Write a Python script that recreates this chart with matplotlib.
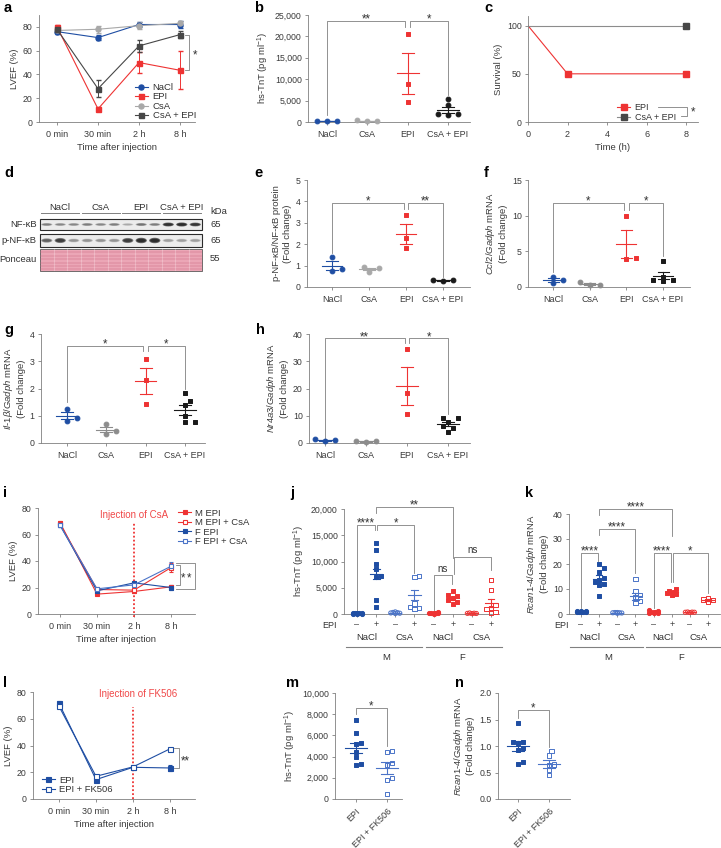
import matplotlib.pyplot as plt
import numpy as np
import matplotlib.transforms as mtransforms
from matplotlib.lines import Line2D
from matplotlib.patches import Rectangle, Ellipse
from matplotlib.ticker import StrMethodFormatter

# ---------------- data ----------------
groups = ['NaCl', 'CsA', 'EPI', 'CsA + EPI']
times = ['0 min', '30 min', '2 h', '8 h']

# a: LVEF time course
lvef_nacl = [76, 71, 82, 82]
lvef_nacl_err = [2, 2, 2, 3]
lvef_epi = [80, 11, 50, 43.5]
lvef_epi_err = [2, 2, 8.5, 16]
lvef_csa = [77, 78, 81, 83]
lvef_csa_err = [2, 3, 3, 2]
lvef_csa_epi = [78, 28, 64, 73.5]
lvef_csa_epi_err = [2, 7, 5, 3]

# b: hs-TnT
tnt_vals = [[150, 150, 150], [200, 400, 200], [20600, 8800, 4600], [5300, 3900, 1800, 1900, 1700]]
tnt_mean = [150, 270, 11400, 2900]
tnt_sem = [20, 70, 4800, 700]

# c: survival
surv_t_epi = [0, 2, 8]
surv_epi = [100, 50, 50]
surv_t_csa_epi = [0, 8]
surv_csa_epi = [100, 100]

# d: western blot band strength (0-1), 12 lanes
nfkb_band = [0.45, 0.4, 0.4, 0.45, 0.4, 0.45, 0.25, 0.5, 0.45, 0.95, 1.0, 0.9]
pnfkb_band = [0.6, 0.85, 0.35, 0.35, 0.35, 0.35, 0.85, 1.0, 1.0, 0.3, 0.3, 0.3]
kda = ['65', '65', '55']

# e: p-NF-kB / NF-kB
e_vals = [[1.42, 0.75, 0.82], [0.92, 0.72, 0.88], [3.38, 2.3, 1.8], [0.3, 0.33, 0.31]]
e_mean = [1.0, 0.84, 2.48, 0.31]
e_sem = [0.22, 0.06, 0.46, 0.01]

# f: Ccl2
f_vals = [[1.4, 0.6, 0.95], [0.7, 0.3, 0.25], [10.0, 3.9, 4.1], [3.65, 1.4, 0.9, 1.05, 1.05]]
f_mean = [1.0, 0.42, 6.0, 1.6]
f_sem = [0.25, 0.14, 2.0, 0.5]

# g: Il-1b
g_vals = [[1.26, 0.81, 0.9], [0.71, 0.45, 0.32], [3.08, 2.3, 1.42], [1.82, 1.55, 1.4, 1.0, 0.76, 0.76]]
g_mean = [1.0, 0.49, 2.27, 1.22]
g_sem = [0.13, 0.1, 0.48, 0.18]

# h: Nr4a3
h_vals = [[0.7, 1.3, 1.0], [0.3, 0.9, 0.8], [34.4, 18.2, 10.6], [9.2, 9.0, 7.6, 6.1, 5.5, 4.0]]
h_mean = [1.0, 0.67, 21.0, 6.9]
h_sem = [0.2, 0.2, 7.0, 0.8]

# i: LVEF by sex
i_m_epi = [69, 15, 17, 20.5]
i_m_epi_err = [1.5, 1, 1.5, 1.5]
i_m_epi_csa = [68, 18.5, 18, 35]
i_m_epi_csa_err = [1.5, 1.5, 1.5, 3.5]
i_f_epi = [67, 17.5, 23.5, 20]
i_f_epi_err = [1, 1, 1.5, 2]
i_f_epi_csa = [67, 19, 22, 36]
i_f_epi_csa_err = [1, 1, 1.5, 3]

# j: hs-TnT by sex (M NaCl -, +, M CsA -, +, F NaCl -, +, F CsA -, +)
epi_signs = ['–', '+'] * 4
j_vals = [[100, 150, 80, 200, 120, 90, 60, 180],
          [13600, 12200, 9600, 8600, 7300, 7100, 2700, 1300],
          [300, 100, 400, 200, 250, 150],
          [7200, 7000, 2000, 1300, 1100, 900],
          [150, 250, 100, 300, 200, 120, 80],
          [4400, 3700, 3500, 3000, 2600, 2300, 2000],
          [100, 150, 200, 120, 80],
          [6400, 4600, 1700, 1200, 900, 400, 200]]
j_mean = [130, 7600, 230, 3600, 170, 3000, 130, 2100]
j_sem = [20, 1000, 50, 1000, 30, 300, 20, 800]

# k: Rcan1-4 by sex
k_vals = [[0.8, 1.2, 1.0, 0.9, 1.1, 0.7, 1.3, 1.0],
          [20, 18.3, 17, 14.5, 13.5, 13, 12.2, 11.8, 7.4],
          [0.4, 0.6, 0.5, 0.3, 0.5, 0.6],
          [14, 9.3, 7.5, 6.8, 5.2, 4.5],
          [0.5, 1.2, 0.8, 0.4, 1.0, 1.5, 0.6, 0.9],
          [9.9, 9.2, 8.8, 8.4, 8.0, 7.6],
          [0.7, 0.6, 0.8, 0.7, 0.75],
          [6.3, 5.8, 5.5, 5.0]]
k_mean = [1.0, 14.2, 0.5, 7.2, 0.85, 8.65, 0.7, 5.6]
k_sem = [0.08, 1.3, 0.05, 1.4, 0.12, 0.35, 0.04, 0.3]

# l: LVEF with FK506
l_epi = [71.5, 14.5, 23.7, 23.2]
l_epi_err = [1.5, 1.5, 1, 2.5]
l_fk = [69.3, 17, 24, 37.5]
l_fk_err = [1, 1, 1, 1]

# m, n
fk_groups = ['EPI', 'EPI + FK506']
m_vals = [[7450, 6200, 5300, 5200, 4450, 3950, 3300, 3250], [4550, 4450, 3400, 3200, 2000, 1800, 500]]
m_mean = [4800, 2900]
m_sem = [500, 550]
n_vals = [[1.43, 1.08, 1.07, 1.06, 0.97, 0.93, 0.7, 0.66], [0.9, 0.82, 0.65, 0.64, 0.55, 0.45]]
n_mean = [1.0, 0.66]
n_sem = [0.1, 0.07]

# ---------------- style ----------------
BLUE = '#1f4ea3'
BLUE2 = '#4b74c8'
RED = '#ee3333'
LGRAY = '#a8a8a8'
MGRAY = '#8c8c8c'
DGRAY = '#474747'
BLACK = '#1a1a1a'
LINE = '#808080'

plt.rcParams.update({
    'font.family': ['Liberation Sans', 'DejaVu Sans'],
    'font.size': 6.5,
    'mathtext.fontset': 'custom',
    'mathtext.rm': 'Liberation Sans',
    'mathtext.it': 'Liberation Sans:italic',
    'mathtext.default': 'regular',
    'axes.edgecolor': LINE,
    'axes.linewidth': 0.6,
    'xtick.color': LINE, 'ytick.color': LINE,
    'xtick.labelcolor': '#3a3a3a', 'ytick.labelcolor': '#3a3a3a',
    'xtick.major.size': 2.5, 'ytick.major.size': 2.5,
    'xtick.major.width': 0.6, 'ytick.major.width': 0.6,
    'xtick.major.pad': 3, 'ytick.major.pad': 2,
    'xtick.labelsize': 6.5, 'ytick.labelsize': 6.3,
    'axes.labelsize': 6.8, 'axes.labelcolor': '#3a3a3a',
    'text.color': '#333333',
})

W, H = 721, 848
fig = plt.figure(figsize=(W / 100, H / 100), dpi=100)


def cat_lim(l, r, c0, c1, n):
    u = (c1 - c0) / (n - 1)
    return ((l - c0) / u, (r - c0) / u)


def panel(l, t, r, b, xlim, ylim):
    ax = fig.add_axes([l / W, 1 - b / H, (r - l) / W, (b - t) / H])
    ax.set_xlim(*xlim)
    ax.set_ylim(*ylim)
    ax.spines[['top', 'right']].set_visible(False)
    ax.px = (r - l, b - t)
    return ax


def letter(x, y, s):
    fig.text(x / W, 1 - y / H, s, fontsize=10.5, fontweight='bold', color='black', va='center', ha='left')


def swarm(ax, x, vals, dx, dv=4.5, maxw=0.3):
    # simple beeswarm: place each point at the nearest free horizontal slot
    vals = np.asarray(vals, float)
    ppx = ax.px[0] / np.ptp(ax.get_xlim())
    ppy = ax.px[1] / np.ptp(ax.get_ylim())
    ys = vals * ppy
    lim = maxw * ppx
    cands = [0.0]
    j = 1
    while j * dx / 2 <= lim + 1e-9:
        cands += [j * dx / 2, -j * dx / 2]
        j += 1
    placed = []
    offs = np.zeros(len(vals))
    for i in np.argsort(vals):
        best, bestd = 0.0, -1
        for c in cands:
            dmin = min([np.hypot((c - px) / dx, (ys[i] - py) / dv) for px, py in placed], default=9)
            if dmin >= 1:
                best = c
                break
            if dmin > bestd:
                best, bestd = c, dmin
        placed.append((best, ys[i]))
        offs[i] = best / ppx
    return x + offs


def dotplot(ax, vals, means, sems, colors, markers, fills, s=12, mw=0.27, cw=0.15, dx=10, maxw=0.3):
    for i in range(len(vals)):
        c = colors[i]
        xs = swarm(ax, i, vals[i], dx, maxw=maxw)
        ax.scatter(xs, vals[i], s=s, marker=markers[i], facecolor=c if fills[i] else 'none',
                   edgecolor=c, linewidths=0.7, zorder=3, clip_on=False)
        m, e = means[i], sems[i]
        ax.plot([i - mw, i + mw], [m, m], color=c, lw=0.8, zorder=4)
        ax.plot([i, i], [m - e, m + e], color=c, lw=0.8, zorder=4)
        for yy in (m - e, m + e):
            ax.plot([i - cw, i + cw], [yy, yy], color=c, lw=0.8, zorder=4)


def bracket(ax, x1, x2, top, y1, y2, label, dy=-1.2):
    ax.plot([x1, x1, x2, x2], [y1, top, top, y2], color=LINE, lw=0.6, clip_on=False)
    fs = 7 if label == 'ns' else 8.3
    ax.annotate(label, ((x1 + x2) / 2, top), xytext=(0, dy), textcoords='offset points',
                ha='center', va='baseline', fontsize=fs, color='#333333', annotation_clip=False)


def star(ax, x, y, s='*'):
    ax.text(x, y, s, ha='center', va='center', fontsize=8.3)


def under(ax, x, dy_px, s, **kw):
    ax.annotate(s, xy=(x, 0), xycoords=('data', 'axes fraction'), xytext=(0, -dy_px * 0.72),
                textcoords='offset points', ha='center', va='center', annotation_clip=False, **kw)


def under_line(ax, x1, x2, dy_px):
    tr = mtransforms.blended_transform_factory(ax.transData, ax.transAxes)
    yf = -dy_px / ax.px[1]
    ax.plot([x1, x2], [yf, yf], color=LINE, lw=0.8, transform=tr, clip_on=False)


comma = StrMethodFormatter('{x:,.0f}')

# ---------------- a ----------------
ax = panel(39, 15, 195, 122, cat_lim(39, 195, 57, 180, 4), (0, 90))
x = np.arange(4)
series_a = [('NaCl', lvef_nacl, lvef_nacl_err, BLUE, 'o'),
            ('EPI', lvef_epi, lvef_epi_err, RED, 's'),
            ('CsA', lvef_csa, lvef_csa_err, LGRAY, 'o'),
            ('CsA + EPI', lvef_csa_epi, lvef_csa_epi_err, DGRAY, 's')]
handles = []
for lab, y, e, c, mk in series_a:
    ax.errorbar(x, y, yerr=e, color=c, marker=mk, ms=3.6, lw=0.8, elinewidth=0.7, capsize=1.8)
    handles.append(Line2D([], [], color=c, marker=mk, ms=3.6, lw=0.8, label=lab))
ax.legend(handles=handles, loc='lower right', bbox_to_anchor=(1.03, -0.02), frameon=False,
          fontsize=6.8, handlelength=1.4, handletextpad=0.5, labelspacing=0.05, borderaxespad=0)
ax.plot([3.12, 3.22, 3.22, 3.12], [73.5, 73.5, 43.5, 43.5], color=LINE, lw=0.6, clip_on=False)
star(ax, 3.36, 56)
ax.set_xticks(x, times)
ax.set_yticks(range(0, 81, 20))
ax.set_ylabel('LVEF (%)', labelpad=3)
ax.set_xlabel('Time after injection', labelpad=3)
letter(4, 8, 'a')

# ---------------- b ----------------
ax = panel(308, 15, 470, 122, cat_lim(308, 470, 327, 448, 4), (0, 25000))
dotplot(ax, tnt_vals, tnt_mean, tnt_sem, [BLUE, LGRAY, RED, BLACK], ['o', 'o', 's', 'o'], [1, 1, 1, 1])
bracket(ax, 0, 1.94, 23700, 1600, 22300, '**')
bracket(ax, 2.06, 3, 23700, 22300, 6300, '*')
ax.set_xticks(range(4), groups)
ax.set_yticks(range(0, 25001, 5000))
ax.yaxis.set_major_formatter(comma)
ax.set_ylabel('hs-TnT (pg ml$^{-1}$)', labelpad=3)
letter(254, 8, 'b')

# ---------------- c ----------------
ax = panel(528, 16, 698, 122, (0, 8.6), (0, 110))
ax.plot(surv_t_epi, surv_epi, color=RED, lw=0.8, marker='s', ms=3.8, markevery=[1, 2])
ax.plot(surv_t_csa_epi, surv_csa_epi, color=MGRAY, lw=0.8, marker='s', ms=3.8, mfc=DGRAY, mec=DGRAY,
        markevery=[1])
hc = [Line2D([], [], color=RED, marker='s', ms=3.8, lw=0.8, label='EPI'),
      Line2D([], [], color=MGRAY, marker='s', ms=3.8, mfc=DGRAY, mec=DGRAY, lw=0.8, label='CsA + EPI')]
ax.legend(handles=hc, loc='lower right', bbox_to_anchor=(0.89, -0.035), frameon=False,
          fontsize=6.5, handlelength=1.4, handletextpad=0.5, labelspacing=0.1, borderaxespad=0)
ax.plot([6.6, 8.05, 8.05, 7.75], [15.6, 15.6, 6.6, 6.6], color=LINE, lw=0.6, clip_on=False)
star(ax, 8.35, 10)
ax.set_xticks([0, 2, 4, 6, 8])
ax.set_yticks([0, 50, 100])
ax.set_ylabel('Survival (%)', labelpad=3)
ax.set_xlabel('Time (h)', labelpad=3)
letter(484, 8, 'c')

# ---------------- d (blot) ----------------
axd = fig.add_axes([40 / W, 1 - 272 / H, 162 / W, 55 / H])
axd.set_xlim(0, 12)
axd.set_ylim(272, 217)
axd.axis('off')
rows = [('NF-κB', 219, 230, nfkb_band, 3.4), ('p-NF-κB', 234, 247, pnfkb_band, 4.6)]
for name, top, bot, band, hh in rows:
    axd.add_patch(Rectangle((0, top), 12, bot - top, fc='#ececec', ec='#2b2b2b', lw=0.8, clip_on=False))
    yc = (top + bot) / 2
    for i, v in enumerate(band):
        a_ = 0.5 * v ** 1.2 + 0.02
        for k, sc in enumerate([1.0, 0.8, 0.55]):
            axd.add_patch(Ellipse((i + 0.5, yc), 0.84 * (1 - 0.12 * k), hh * sc * (0.6 + 0.6 * v),
                                  fc='#151515', alpha=a_, lw=0))
    axd.text(-0.25, yc, name, ha='right', va='center', fontsize=6.8)
axd.add_patch(Rectangle((0, 249), 12, 22, fc='#eba6b6', ec='#5a5a5a', lw=0.6, clip_on=False))
for yy in [252.5, 256, 259.5, 263, 266.5, 269.5]:
    axd.plot([0.05, 11.95], [yy, yy], color='#cf6c86', alpha=0.3, lw=1.2)
for i in range(1, 12):
    axd.plot([i, i], [249.5, 270.5], color='white', alpha=0.25, lw=0.8)
axd.text(-0.25, 260, 'Ponceau', ha='right', va='center', fontsize=6.8)
for gi, g in enumerate(groups):
    axd.text(3 * gi + 1.5, 207.5, g, ha='center', va='center', fontsize=6.8)
    axd.plot([3 * gi + 0.1, 3 * gi + 2.9], [213, 213], color=LINE, lw=0.7, clip_on=False)
axd.text(12.6, 212, 'kDa', ha='left', va='center', fontsize=6.8)
for lab, yy in zip(kda, [225, 241, 259]):
    axd.text(12.6, yy, lab, ha='left', va='center', fontsize=6.8)
letter(4, 173, 'd')

# ---------------- e ----------------
ax = panel(307, 180, 470, 287, cat_lim(307, 470, 332, 443, 4), (0, 5))
dotplot(ax, e_vals, e_mean, e_sem, [BLUE, LGRAY, RED, BLACK], ['o', 'o', 's', 'o'], [1, 1, 1, 1])
bracket(ax, 0, 1.94, 3.92, 1.6, 3.66, '*')
bracket(ax, 2.06, 3, 3.92, 3.66, 0.46, '**')
ax.set_xticks(range(4), groups)
ax.set_yticks(range(0, 6))
ax.set_ylabel('p-NF-κB/NF-κB protein\n(Fold change)', labelpad=3)
letter(254, 173, 'e')

# ---------------- f ----------------
ax = panel(528, 180, 690, 287, cat_lim(528, 690, 553, 663, 4), (0, 15))
dotplot(ax, f_vals, f_mean, f_sem, [BLUE, MGRAY, RED, BLACK], ['o', 'o', 's', 's'], [1, 1, 1, 1])
bracket(ax, 0, 1.94, 11.75, 2.1, 10.8, '*')
bracket(ax, 2.06, 3, 11.75, 10.8, 4.4, '*')
ax.set_xticks(range(4), groups)
ax.set_yticks([0, 5, 10, 15])
ax.set_ylabel('$\\it{Ccl2/Gadph}$ mRNA\n(Fold change)', labelpad=3)
letter(484, 173, 'f')

# ---------------- g ----------------
ax = panel(41, 334, 205, 443, cat_lim(41, 205, 67, 185, 4), (0, 4))
dotplot(ax, g_vals, g_mean, g_sem, [BLUE, MGRAY, RED, BLACK], ['o', 'o', 's', 's'], [1, 1, 1, 1])
bracket(ax, 0, 1.94, 3.56, 1.5, 3.37, '*')
bracket(ax, 2.06, 3, 3.56, 3.37, 2.0, '*')
ax.set_xticks(range(4), groups)
ax.set_yticks(range(0, 5))
ax.set_ylabel('$\\it{Il}$-$\\it{1β/Gadph}$ mRNA\n(Fold change)', labelpad=3)
letter(4, 330, 'g')

# ---------------- h ----------------
ax = panel(309, 334, 470, 443, cat_lim(309, 470, 325, 448, 4), (0, 40))
dotplot(ax, h_vals, h_mean, h_sem, [BLUE, MGRAY, RED, BLACK], ['o', 'o', 's', 's'], [1, 1, 1, 1])
bracket(ax, 0, 1.94, 38.4, 1.6, 36.6, '**')
bracket(ax, 2.06, 3, 38.4, 36.6, 10.8, '*')
ax.set_xticks(range(4), groups)
ax.set_yticks(range(0, 41, 10))
ax.set_ylabel('$\\it{Nr4a3/Gadph}$ mRNA\n(Fold change)', labelpad=3)
letter(256, 330, 'h')

# ---------------- i ----------------
ax = panel(38, 508, 195, 614, cat_lim(38, 195, 60, 171, 4), (0, 80))
series_i = [('M EPI', i_m_epi, i_m_epi_err, RED, True),
            ('M EPI + CsA', i_m_epi_csa, i_m_epi_csa_err, RED, False),
            ('F EPI', i_f_epi, i_f_epi_err, BLUE, True),
            ('F EPI + CsA', i_f_epi_csa, i_f_epi_csa_err, BLUE2, False)]
handles = []
for lab, y, e, c, fl in series_i:
    ax.errorbar(x, y, yerr=e, color=c, marker='s', ms=3.4, mfc=c if fl else 'white', mec=c, mew=0.8,
                lw=0.8, elinewidth=0.7, capsize=1.5)
    handles.append(Line2D([], [], color=c, marker='s', ms=3.4, mfc=c if fl else 'white', mec=c, mew=0.8,
                          lw=0.8, label=lab))
ax.axvline(2, ymin=-0.03, ymax=0.86, color=RED, lw=1.3, ls=(0, (1, 1.2)), clip_on=False)
ax.text(2, 75, 'Injection of CsA', color='#f04848', ha='center', va='center', fontsize=7)
ax.legend(handles=handles, loc='upper left', bbox_to_anchor=(0.87, 1.03), frameon=False,
          fontsize=6.8, handlelength=1.3, handletextpad=0.45, labelspacing=0.05, borderaxespad=0)
ax.plot([3.14, 3.24, 3.24, 3.14], [37, 37, 22, 22], color=LINE, lw=0.6, clip_on=False)
ax.plot([3.14, 3.65, 3.65, 3.14], [38.6, 38.6, 19, 19], color=LINE, lw=0.6, clip_on=False)
star(ax, 3.34, 27)
star(ax, 3.5, 27)
ax.set_xticks(x, times)
ax.set_yticks(range(0, 81, 20))
ax.set_ylabel('LVEF (%)', labelpad=3)
ax.set_xlabel('Time after injection', labelpad=3)
letter(3, 493, 'i')

# ---------------- j / k ----------------
jk_colors = [BLUE, BLUE, BLUE2, BLUE2, RED, RED, RED, RED]
jk_markers = ['o', 's', 'o', 's', 'o', 's', 'o', 's']
jk_fills = [1, 1, 0, 0, 1, 1, 0, 0]
sub_groups = ['NaCl', 'CsA', 'NaCl', 'CsA']


def sex_axis(ax, m_span, f_span, epi_dx):
    ax.set_xticks(range(8), epi_signs)
    ax.tick_params(axis='x', labelsize=6.5, pad=2)
    ax.annotate('EPI', xy=(0, 0), xycoords='axes fraction', xytext=(epi_dx * 0.72, -11 * 0.72),
                textcoords='offset points', ha='right', va='center', fontsize=6.5, annotation_clip=False)
    for gi, g in enumerate(sub_groups):
        under(ax, 2 * gi + 0.5, 24, g, fontsize=6.8)
    under_line(ax, m_span[0], m_span[1], 33)
    under_line(ax, f_span[0], f_span[1], 33)
    under(ax, 1.5, 43, 'M', fontsize=6.8)
    under(ax, 5.5, 43, 'F', fontsize=6.8)


ax = panel(344, 509, 499, 614, cat_lim(344, 499, 357, 491, 8), (0, 20000))
dotplot(ax, j_vals, j_mean, j_sem, jk_colors, jk_markers, jk_fills, s=9, mw=0.32, cw=0.18, dx=4.5, maxw=0.3)
bracket(ax, 0, 0.94, 16950, 500, 16000, '****')
bracket(ax, 1.06, 3, 16950, 16000, 7750, '*')
bracket(ax, 1, 5, 20400, 19300, 10600, '**')
bracket(ax, 4, 4.94, 7400, 800, 5800, 'ns', dy=2.5)
bracket(ax, 5.06, 7, 10900, 7700, 8300, 'ns', dy=2.5)
ax.set_yticks(range(0, 20001, 5000))
ax.yaxis.set_major_formatter(comma)
ax.set_ylabel('hs-TnT (pg ml$^{-1}$)', labelpad=3)
sex_axis(ax, (-0.55, 3.4), (3.62, 7.55), -7)
letter(290, 493, 'j')

ax = panel(569, 514, 720, 614, cat_lim(569, 720, 581, 708, 8), (0, 40))
dotplot(ax, k_vals, k_mean, k_sem, jk_colors, jk_markers, jk_fills, s=9, mw=0.32, cw=0.18, dx=4.5, maxw=0.3)
bracket(ax, 0, 0.94, 24.5, 2.3, 21.3, '****')
bracket(ax, 1, 3, 33.9, 31.6, 16.3, '****')
bracket(ax, 1, 5, 42, 39.6, 31.2, '****')
bracket(ax, 4, 4.94, 24.5, 2.3, 12.9, '****')
bracket(ax, 5.06, 7, 24.5, 12.9, 8.3, '*')
ax.set_yticks(range(0, 41, 10))
ax.set_ylabel('$\\it{Rcan1}$-$\\it{4/Gadph}$ mRNA\n(Fold change)', labelpad=3)
sex_axis(ax, (-0.6, 3.4), (3.6, 7.8), 0)
letter(525, 493, 'k')

# ---------------- l ----------------
ax = panel(33, 692, 195, 799, cat_lim(33, 195, 59, 170, 4), (0, 80))
hl = []
for lab, y, e, fl in [('EPI', l_epi, l_epi_err, True), ('EPI + FK506', l_fk, l_fk_err, False)]:
    ax.errorbar(x, y, yerr=e, color=BLUE, marker='s', ms=3.6, mfc=BLUE if fl else 'white', mec=BLUE, mew=0.8,
                lw=0.8, elinewidth=0.7, capsize=1.5)
    hl.append(Line2D([], [], color=BLUE, marker='s', ms=3.6, mfc=BLUE if fl else 'white', mec=BLUE, mew=0.8,
                     lw=0.8, label=lab))
ax.axvline(2, ymin=0, ymax=0.86, color=RED, lw=1.3, ls=(0, (1, 1.2)))
ax.text(2.13, 78.5, 'Injection of FK506', color='#f04848', ha='center', va='center', fontsize=7)
ax.legend(handles=hl, loc='lower left', bbox_to_anchor=(0.03, 0.01), frameon=False,
          fontsize=6.8, handlelength=1.4, handletextpad=0.45, labelspacing=0.05, borderaxespad=0)
ax.plot([3.12, 3.24, 3.24, 3.12], [38, 38, 23, 23], color=LINE, lw=0.6, clip_on=False)
star(ax, 3.42, 28, '**')
ax.set_xticks(x, times)
ax.set_yticks(range(0, 81, 20))
ax.set_ylabel('LVEF (%)', labelpad=3)
ax.set_xlabel('Time after injection', labelpad=3)
letter(3, 683, 'l')

# ---------------- m / n ----------------
ax = panel(335, 693, 402, 799, cat_lim(335, 402, 356, 387, 2), (0, 10000))
dotplot(ax, m_vals, m_mean, m_sem, [BLUE, BLUE2], ['s', 's'], [1, 0], s=10, mw=0.35, cw=0.2, dx=5, maxw=0.22)
bracket(ax, 0, 1, 8600, 8000, 5000, '*')
ax.set_xticks(range(2), fk_groups, rotation=45, ha='right', rotation_mode='anchor')
ax.set_yticks(range(0, 10001, 2000))
ax.yaxis.set_major_formatter(comma)
ax.set_ylabel('hs-TnT (pg ml$^{-1}$)', labelpad=3)
letter(286, 683, 'm')

ax = panel(498, 693, 570, 799, cat_lim(498, 570, 518, 549, 2), (0, 2))
dotplot(ax, n_vals, n_mean, n_sem, [BLUE, BLUE2], ['s', 's'], [1, 0], s=10, mw=0.35, cw=0.2, dx=5, maxw=0.22)
bracket(ax, 0, 1, 1.675, 1.52, 0.99, '*')
ax.set_xticks(range(2), fk_groups, rotation=45, ha='right', rotation_mode='anchor')
ax.set_yticks([0, 0.5, 1.0, 1.5, 2.0])
ax.yaxis.set_major_formatter(StrMethodFormatter('{x:.1f}'))
ax.set_ylabel('$\\it{Rcan1}$-$\\it{4/Gadph}$ mRNA\n(Fold change)', labelpad=3)
letter(455, 683, 'n')

fig.savefig('out.png', dpi=100, facecolor='white')
